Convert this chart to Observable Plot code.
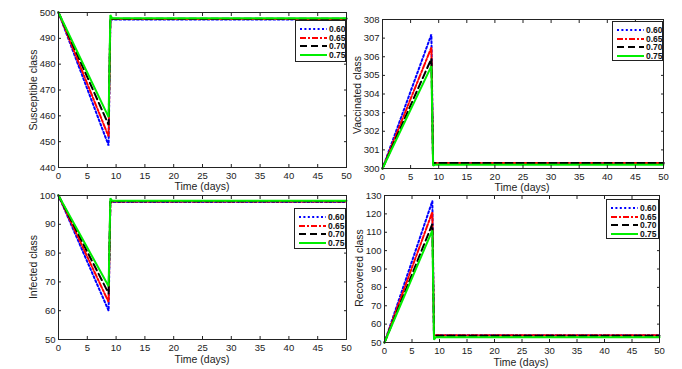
<!DOCTYPE html>
<html><head>
<meta charset="utf-8">
<script src="https://cdn.jsdelivr.net/npm/d3@7"></script>
<script src="https://cdn.jsdelivr.net/npm/@observablehq/plot@0.6"></script>
<style>
body{margin:0;background:#fff;}
#root{position:relative;width:682px;height:369px;font-family:"Liberation Sans",Arial,sans-serif;overflow:hidden;background:#fff;}
.lbl{position:absolute;font-size:10.5px;color:#222;white-space:nowrap;transform:translate(-50%,-50%);}
.ylbl{position:absolute;font-size:10.5px;color:#222;white-space:nowrap;transform:translate(-50%,-50%) rotate(-90deg);}
.leg{position:absolute;border:1px solid #222;background:#fff;box-sizing:border-box;}
.leg .row{position:absolute;left:0;height:8px;display:flex;align-items:center;font-size:8.5px;font-weight:bold;color:#111;}
.panel{position:absolute;}
</style>
</head><body>
<div id="root"></div>
<script>
// ---- data ----
const seriesNames = ["0.60", "0.65", "0.70", "0.75"];
const seriesColors = ["#0000ff", "#ff0000", "#000000", "#00ee00"];
const seriesDash = ["2,2.4", "6,2,2,2", "7,4", null];
const times = [0, 8.7, 9.0, 9.3, 50];
const xTicks = [0, 5, 10, 15, 20, 25, 30, 35, 40, 45, 50];

// Susceptible class
const susceptible060 = [500, 448.5, 497.3, 497.3, 497.3];
const susceptible065 = [500, 452.0, 497.5, 497.5, 497.5];
const susceptible070 = [500, 456.5, 497.6, 497.6, 497.6];
const susceptible075 = [500, 459.5, 499.0, 497.8, 497.8];
const susceptibleTicks = [440, 450, 460, 470, 480, 490, 500];

// Vaccinated class
const vaccinated060 = [300, 307.2, 300.3, 300.3, 300.3];
const vaccinated065 = [300, 306.5, 300.3, 300.3, 300.3];
const vaccinated070 = [300, 305.9, 300.3, 300.3, 300.3];
const vaccinated075 = [300, 305.5, 300.15, 300.2, 300.2];
const vaccinatedTicks = [300, 301, 302, 303, 304, 305, 306, 307, 308];

// Infected class
const infected060 = [100, 60.0, 97.7, 97.7, 97.7];
const infected065 = [100, 63.0, 97.9, 97.9, 97.9];
const infected070 = [100, 66.0, 98.0, 98.0, 98.0];
const infected075 = [100, 68.5, 99.0, 98.2, 98.2];
const infectedTicks = [50, 60, 70, 80, 90, 100];

// Recovered class
const recovered060 = [50, 127.0, 53.9, 53.9, 53.9];
const recovered065 = [50, 121.0, 53.9, 53.9, 53.9];
const recovered070 = [50, 114.5, 53.7, 53.7, 53.7];
const recovered075 = [50, 111.0, 51.5, 52.8, 52.8];
const recoveredTicks = [50, 60, 70, 80, 90, 100, 110, 120, 130];

const panels = [
  {frame:[58,12,346,167], domain:[440,500], ticks:susceptibleTicks,
   values:[susceptible060,susceptible065,susceptible070,susceptible075],
   ylabel:"Susceptible class", ylabelPos:[33,90], xlabel:"Time  (days)", xlabelPos:[202,186],
   legend:[295,20,51,42]},
  {frame:[382,19,663,168], domain:[300,308], ticks:vaccinatedTicks,
   values:[vaccinated060,vaccinated065,vaccinated070,vaccinated075],
   ylabel:"Vaccinated class", ylabelPos:[357,95], xlabel:"Time (days)", xlabelPos:[522,187],
   legend:[612,21,51,40]},
  {frame:[58,195,346,339], domain:[50,100], ticks:infectedTicks,
   values:[infected060,infected065,infected070,infected075],
   ylabel:"Infected class", ylabelPos:[33,267], xlabel:"Time (days)", xlabelPos:[202,359],
   legend:[294,208,52,41]},
  {frame:[384,195,659,342], domain:[50,130], ticks:recoveredTicks,
   values:[recovered060,recovered065,recovered070,recovered075],
   ylabel:"Recovered class", ylabelPos:[359,268], xlabel:"Time (days)", xlabelPos:[521,362],
   legend:[606,199,53,40]}
];

const root = document.getElementById("root");
const font = '"Liberation Sans", Arial, sans-serif';

panels.forEach(p => {
  const ml = 30, mr = 6, mt = 6, mb = 16;
  const w = p.frame[2] - p.frame[0], h = p.frame[3] - p.frame[1];
  const rows = [];
  seriesNames.forEach((s, si) => times.forEach((t, i) => rows.push({t, v: p.values[si][i], s})));
  const plot = Plot.plot({
    width: w + ml + mr, height: h + mt + mb,
    marginLeft: ml, marginRight: mr, marginTop: mt, marginBottom: mb,
    style: {fontFamily: font, fontSize: "9.5px", background: "transparent", color: "#222", overflow: "visible"},
    x: {domain: [0, 50]},
    y: {domain: p.domain},
    marks: [
      ...seriesNames.map((s, si) => Plot.line(rows.filter(r => r.s === s), {
        x: "t", y: "v", stroke: seriesColors[si], strokeWidth: 2,
        strokeDasharray: seriesDash[si], strokeLinejoin: "miter"
      })),
      Plot.frame({stroke: "#222", strokeWidth: 1}),
      Plot.axisX(xTicks, {tickSize: 0, tickPadding: 5, label: null}),
      Plot.axisX(xTicks, {tickSize: -3, text: null, label: null}),
      Plot.axisX(xTicks, {anchor: "top", tickSize: -3, text: null, label: null}),
      Plot.axisY(p.ticks, {tickSize: 0, tickPadding: 3, label: null}),
      Plot.axisY(p.ticks, {tickSize: -3, text: null, label: null}),
      Plot.axisY(p.ticks, {anchor: "right", tickSize: -3, text: null, label: null})
    ]
  });
  plot.classList.add("panel");
  plot.style.left = (p.frame[0] - ml) + "px";
  plot.style.top = (p.frame[1] - mt) + "px";
  root.appendChild(plot);

  const xl = document.createElement("div");
  xl.className = "lbl"; xl.textContent = p.xlabel;
  xl.style.left = p.xlabelPos[0] + "px"; xl.style.top = p.xlabelPos[1] + "px";
  root.appendChild(xl);
  const yl = document.createElement("div");
  yl.className = "ylbl"; yl.textContent = p.ylabel;
  yl.style.left = p.ylabelPos[0] + "px"; yl.style.top = p.ylabelPos[1] + "px";
  root.appendChild(yl);

  const [lx, ly, lw, lh] = p.legend;
  const leg = document.createElement("div");
  leg.className = "leg";
  leg.style.left = lx + "px"; leg.style.top = ly + "px";
  leg.style.width = lw + "px"; leg.style.height = lh + "px";
  seriesNames.forEach((s, si) => {
    const row = document.createElement("div");
    row.className = "row";
    row.style.top = (4 + si * 8.6) + "px";
    const dash = seriesDash[si] ? `stroke-dasharray="${seriesDash[si]}"` : "";
    row.innerHTML = `<svg width="30" height="8" style="margin-left:3px"><line x1="1" x2="28" y1="4" y2="4" stroke="${seriesColors[si]}" stroke-width="2" ${dash}/></svg><span>${s}</span>`;
    leg.appendChild(row);
  });
  root.appendChild(leg);
});
</script>
</body></html>
